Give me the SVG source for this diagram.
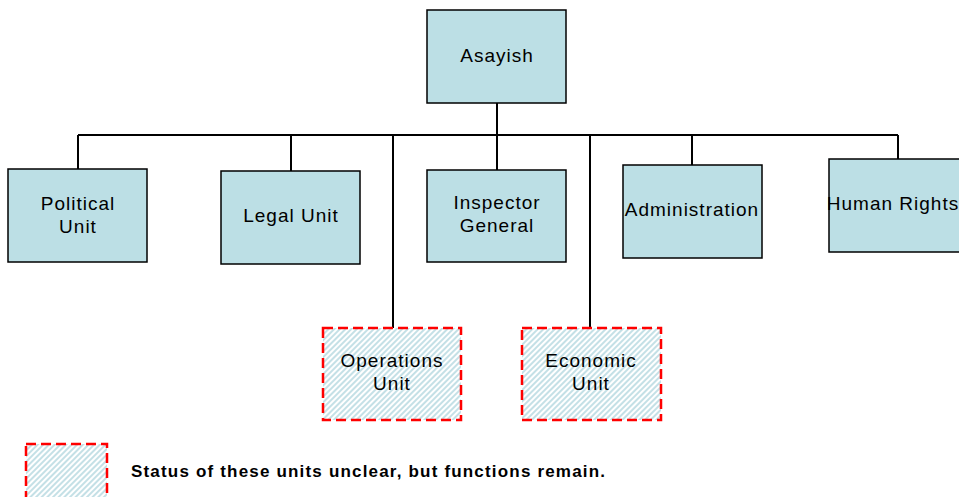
<svg xmlns="http://www.w3.org/2000/svg" width="959" height="497" viewBox="0 0 959 497">
<defs>
<pattern id="hatch" width="4" height="4" patternUnits="userSpaceOnUse" patternTransform="rotate(45)">
<rect width="4" height="4" fill="#ffffff"/>
<rect width="2" height="4" fill="#c4e0e6"/>
</pattern>
</defs>
<style>
.node{fill:#bcdfe5;stroke:#000;stroke-width:1.5}
.dash{fill:url(#hatch);stroke:#ff0000;stroke-width:2.5;stroke-dasharray:10,5}
.lbl{font-family:"Liberation Sans",Arial,sans-serif;font-size:19px;letter-spacing:1px;fill:#000;text-anchor:middle}
.conn{stroke:#000;stroke-width:2;fill:none}
</style>
<g id="connectors">
<line class="conn" x1="78" y1="135" x2="898" y2="135"/>
<line class="conn" x1="497" y1="103" x2="497" y2="170"/>
<line class="conn" x1="78" y1="135" x2="78" y2="169"/>
<line class="conn" x1="291" y1="135" x2="291" y2="171"/>
<line class="conn" x1="692" y1="135" x2="692" y2="165"/>
<line class="conn" x1="898" y1="135" x2="898" y2="159"/>
<line class="conn" x1="393" y1="135" x2="393" y2="328"/>
<line class="conn" x1="590" y1="135" x2="590" y2="328"/>
</g>
<g id="asayish">
<rect class="node" x="427" y="10" width="139" height="93"/>
<text class="lbl" x="497" y="62">Asayish</text>
</g>
<g id="political">
<rect class="node" x="8" y="169" width="139" height="93"/>
<text class="lbl" x="78" y="210">Political</text>
<text class="lbl" x="78" y="233">Unit</text>
</g>
<g id="legal">
<rect class="node" x="221" y="171" width="139" height="93"/>
<text class="lbl" x="291" y="222">Legal Unit</text>
</g>
<g id="inspector">
<rect class="node" x="427" y="170" width="139" height="92"/>
<text class="lbl" x="497" y="209">Inspector</text>
<text class="lbl" x="497" y="232">General</text>
</g>
<g id="administration">
<rect class="node" x="623" y="165" width="139" height="93"/>
<text class="lbl" x="692" y="216">Administration</text>
</g>
<g id="humanrights">
<rect class="node" x="829" y="159" width="139" height="93"/>
<text class="lbl" x="893" y="210" letter-spacing="0.6">Human Rights</text>
</g>
<g id="operations">
<rect class="dash" x="323" y="328" width="138" height="92"/>
<text class="lbl" x="392" y="367">Operations</text>
<text class="lbl" x="392" y="390">Unit</text>
</g>
<g id="economic">
<rect class="dash" x="522" y="328" width="139" height="92"/>
<text class="lbl" x="591" y="367">Economic</text>
<text class="lbl" x="591" y="390">Unit</text>
</g>
<g id="legend">
<rect class="dash" x="26" y="444" width="81" height="60"/>
<text x="131" y="477" font-family="Liberation Sans, Arial, sans-serif" font-size="17" font-weight="bold" textLength="474" lengthAdjust="spacing" fill="#000">Status of these units unclear, but functions remain.</text>
</g>
</svg>
